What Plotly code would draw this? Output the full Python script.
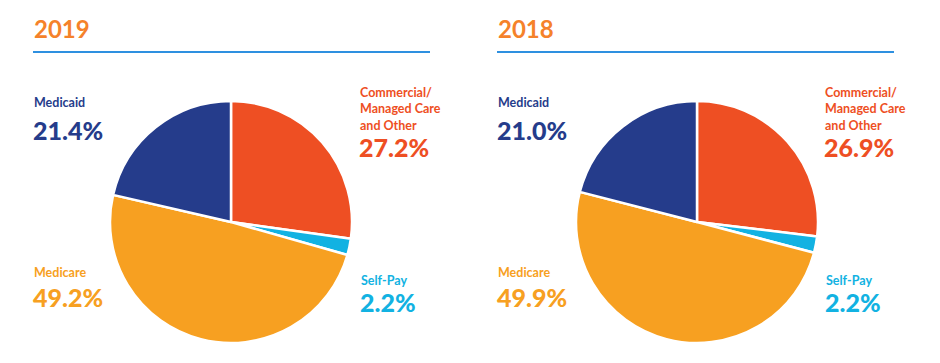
import plotly.graph_objects as go

W, H = 940, 363
OFF = 8  # default page body margin

years = ["2019", "2018"]
categories = ["Commercial/<br>Managed Care<br>and Other", "Self-Pay", "Medicare", "Medicaid"]
values_2019 = [27.2, 2.2, 49.2, 21.4]
values_2018 = [26.9, 2.2, 49.9, 21.0]
value_labels_2019 = ["27.2%", "2.2%", "49.2%", "21.4%"]
value_labels_2018 = ["26.9%", "2.2%", "49.9%", "21.0%"]

colors = ["#EE4F23", "#12B2E2", "#F7A021", "#253C8B"]
title_color = "#F5822A"
rule_color = "#2E90E0"
FONT = "Lato"


def px(x):
    return (x - OFF) / W


def py(y):
    return 1 - (y - OFF) / H


fig = go.Figure()

# pie geometry (page pixel centers)
pie_centers = [(231, 222), (697, 222)]
R = 121

for (cx, cy), vals in zip(pie_centers, [values_2019, values_2018]):
    fig.add_trace(go.Pie(
        labels=[c.replace("<br>", " ") for c in categories],
        values=vals,
        sort=False,
        direction="clockwise",
        rotation=0,
        marker=dict(colors=colors, line=dict(color="white", width=2.5)),
        textinfo="none",
        hoverinfo="label+percent",
        showlegend=False,
        domain=dict(x=[px(cx - R), px(cx + R)], y=[py(cy + R), py(cy - R)]),
    ))

annotations = []
shapes = []

# titles and rules
title_x = [33, 497]
rule_x = [(33, 430), (497, 894)]
for yr, tx, (rx0, rx1) in zip(years, title_x, rule_x):
    annotations.append(dict(
        text=yr, x=px(tx - 1), y=py(28), xref="paper", yref="paper",
        xanchor="left", yanchor="middle", showarrow=False,
        font=dict(family=FONT, size=24, color=title_color, weight=700),
    ))
    shapes.append(dict(
        type="line", xref="paper", yref="paper",
        x0=px(rx0), x1=px(rx1), y0=py(52), y1=py(52),
        line=dict(color=rule_color, width=2),
    ))

# label positions per chart: (x, name_y_center, value_y_center) for each category
label_pos = [
    {  # 2019
        0: (359, 109, 147),
        1: (360, 280, 302),
        2: (33, 272, 297),
        3: (33, 103, 130),
    },
    {  # 2018
        0: (824, 109, 147),
        1: (825, 280, 302),
        2: (497, 272, 297),
        3: (497, 103, 130),
    },
]

for pos, vlabels in zip(label_pos, [value_labels_2019, value_labels_2018]):
    for i, cat in enumerate(categories):
        x, ny, vy = pos[i]
        annotations.append(dict(
            text=cat, x=px(x - 1), y=py(ny), xref="paper", yref="paper",
            xanchor="left", yanchor="middle", align="left", showarrow=False,
            font=dict(family=FONT, size=12.5, color=colors[i], weight=700),
        ))
        annotations.append(dict(
            text=vlabels[i], x=px(x - 2), y=py(vy), xref="paper", yref="paper",
            xanchor="left", yanchor="middle", showarrow=False,
            font=dict(family=FONT, size=25, color=colors[i], weight=900),
        ))

fig.update_layout(
    width=W, height=H,
    margin=dict(l=0, r=0, t=0, b=0),
    paper_bgcolor="white", plot_bgcolor="white",
    annotations=annotations, shapes=shapes,
)

fig.write_html("out.html")
